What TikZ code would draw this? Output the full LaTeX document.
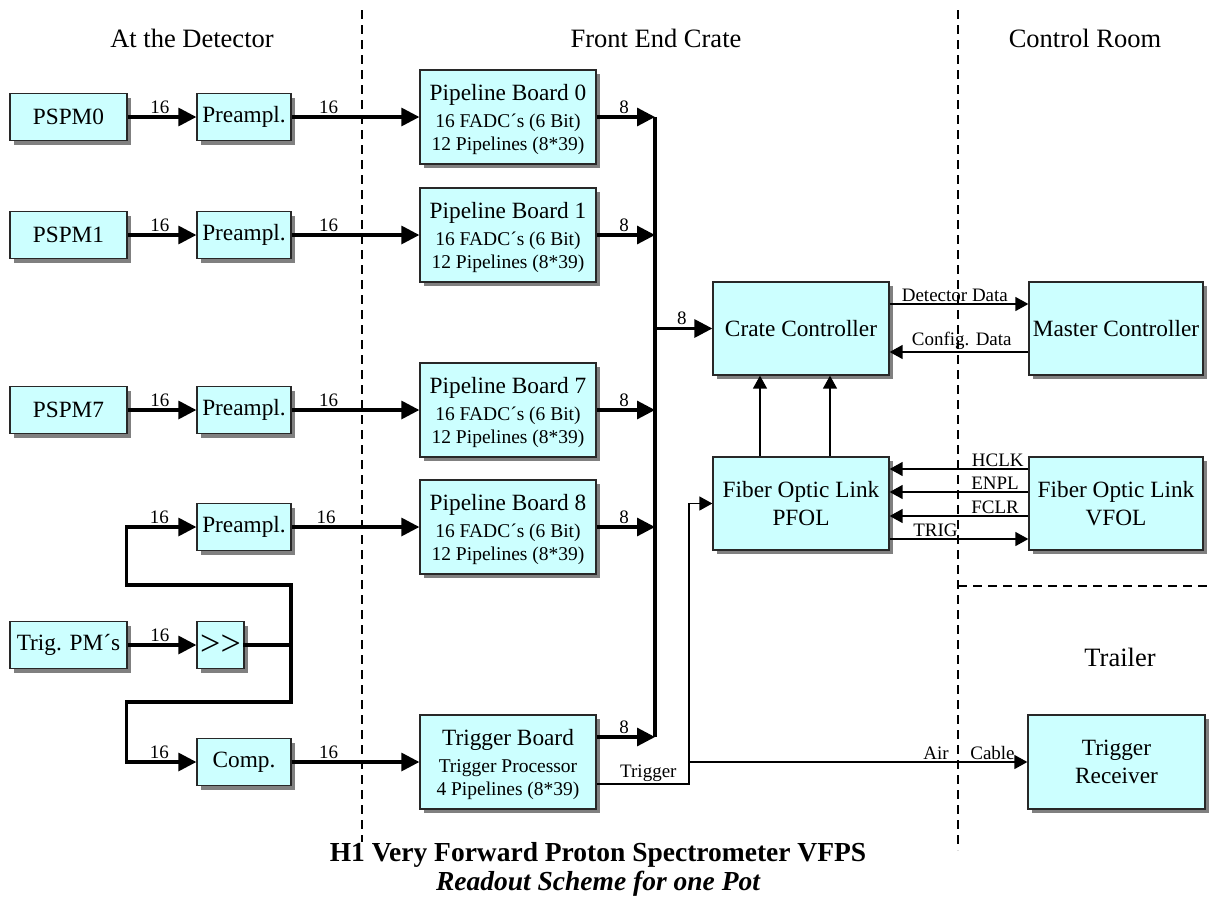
\documentclass[tikz,border=0pt]{standalone}
\usepackage{fontspec}
\setmainfont{Liberation Serif}
\usetikzlibrary{arrows.meta,shadows}
\definecolor{boxfill}{RGB}{204,255,255}
\definecolor{boxline}{RGB}{40,40,40}
\definecolor{shadowgray}{RGB}{128,128,128}
\newcommand{\bigf}{\fontsize{23.3}{27.5}\selectfont}
\newcommand{\smallf}{\fontsize{19.5}{23}\selectfont}
\newcommand{\lblf}{\fontsize{19}{21}\selectfont}
\newcommand{\topstrut}{\rule{0pt}{21pt}}
\begin{document}
\begin{tikzpicture}[x=1pt,y=-1pt,
  box/.style={draw=boxline, line width=1.3pt, fill=boxfill, inner sep=0pt, align=center, font=\bigf,
    drop shadow={shadow xshift=4pt, shadow yshift=-4pt, fill=shadowgray, opacity=1}},
  smallbox/.style={box, minimum width=94pt, minimum height=47pt},
  srcbox/.style={box, minimum width=117pt, minimum height=47pt},
  bigbox/.style={box, minimum width=176pt, minimum height=94pt},
  sig/.style={line width=3.2pt},
  sigline/.style={sig, line cap=rect},
  sigarrow/.style={sig, -{Triangle[length=18pt,width=18pt]}},
  bus/.style={line width=4.5pt},
  thinline/.style={line width=1.4pt},
  thinarrow/.style={thinline, -{Triangle[length=13pt,width=14pt]}},
  lbl/.style={font=\lblf, inner sep=1pt, above, yshift=1pt},
  divider/.style={line width=1.8pt, dash pattern=on 9pt off 6pt},
  region/.style={font=\fontsize{26.5}{30}\selectfont},
  title/.style={font=\fontsize{27.5}{30}\selectfont\bfseries}
]
\useasboundingbox (0,0) rectangle (1213,905);

% dividers
\draw[divider] (362,10) -- (362,842);
\draw[divider] (958,10) -- (958,850);
\draw[divider] (958,586) -- (1213,586);

% region titles
\node[region] (tdet) at (192,38) {At the Detector};
\node[region] (tfec) at (656,38) {Front End Crate};
\node[region] (tcr) at (1085,38) {Control Room};
\node[region] (ttr) at (1120,657) {Trailer};

% boxes
\node[srcbox] (pspm0) at (68.5,117) {PSPM0};
\node[smallbox] (pre0) at (244,117) {Preampl.};
\node[bigbox] (pb0) at (508,117) {\topstrut Pipeline Board 0\\{\smallf 16 FADC´s (6 Bit)}\\[-5pt]{\smallf 12 Pipelines (8*39)}};

\node[srcbox] (pspm1) at (68.5,235) {PSPM1};
\node[smallbox] (pre1) at (244,235) {Preampl.};
\node[bigbox] (pb1) at (508,235) {\topstrut Pipeline Board 1\\{\smallf 16 FADC´s (6 Bit)}\\[-5pt]{\smallf 12 Pipelines (8*39)}};

\node[srcbox] (pspm7) at (68.5,410) {PSPM7};
\node[smallbox] (pre7) at (244,410) {Preampl.};
\node[bigbox] (pb7) at (508,410) {\topstrut Pipeline Board 7\\{\smallf 16 FADC´s (6 Bit)}\\[-5pt]{\smallf 12 Pipelines (8*39)}};

\node[smallbox] (pre8) at (244,527) {Preampl.};
\node[bigbox] (pb8) at (508,527) {\topstrut Pipeline Board 8\\{\smallf 16 FADC´s (6 Bit)}\\[-5pt]{\smallf 12 Pipelines (8*39)}};

\node[srcbox] (trig) at (68.5,645) {Trig. PM´s};
\node[box, minimum width=47pt, minimum height=47pt, font=\fontsize{36}{36}\selectfont] (sh) at (220.5,645) {>\kern0pt>};

\node[smallbox] (comp) at (244,762) {Comp.};
\node[bigbox] (tb) at (508,762) {\topstrut Trigger Board\\{\smallf Trigger Processor}\\[-5pt]{\smallf 4 Pipelines (8*39)}};

\node[bigbox, minimum height=93pt] (cc) at (801,328.5) {Crate Controller};
\node[bigbox, minimum width=174pt, minimum height=93pt] (mc) at (1116,328.5) {Master Controller};
\node[bigbox, minimum height=93pt] (pfol) at (801,503.5) {Fiber Optic Link\\PFOL};
\node[bigbox, minimum width=174pt, minimum height=93pt] (vfol) at (1116,503.5) {Fiber Optic Link\\VFOL};
\node[bigbox, minimum width=177pt] (tr) at (1116.5,762) {Trigger\\Receiver};

% coordinates
\coordinate (b0) at (655,117);
\coordinate (b1) at (655,235);
\coordinate (b7) at (655,410);
\coordinate (b8) at (655,527);
\coordinate (b9) at (655,737);
\coordinate (bc) at (655,328.5);
\coordinate (w1) at (291,585);
\coordinate (w2) at (291,702);
\coordinate (wc) at (291,645);
\coordinate (tj) at (689,762);

% detector side
\draw[sigarrow] (pspm0) -- node[lbl,pos=0.47]{16} (pre0);
\draw[sigarrow] (pre0) -- node[lbl,pos=0.29]{16} (pb0);
\draw[sigarrow] (pspm1) -- node[lbl,pos=0.47]{16} (pre1);
\draw[sigarrow] (pre1) -- node[lbl,pos=0.29]{16} (pb1);
\draw[sigarrow] (pspm7) -- node[lbl,pos=0.47]{16} (pre7);
\draw[sigarrow] (pre7) -- node[lbl,pos=0.29]{16} (pb7);
\draw[sigarrow] (pre8) -- node[lbl,pos=0.27]{16} (pb8);
\draw[sigarrow] (trig) -- node[lbl,pos=0.47]{16} (sh);
\draw[sigarrow] (comp) -- node[lbl,pos=0.29]{16} (tb);
\draw[sigline] (sh) -- (wc);
\draw[sigline] (w1) -- (w2);
\draw[sigarrow] (w1) -| ([xshift=-70pt]pre8.west) -- node[lbl,pos=0.47]{16} (pre8.west);
\draw[sigarrow] (w2) -| ([xshift=-70pt]comp.west) -- node[lbl,pos=0.47]{16} (comp.west);

% bus
\draw[bus] (b0) -- (b9);
\draw[sigarrow] (pb0) -- node[lbl,pos=0.47]{8} (b0);
\draw[sigarrow] (pb1) -- node[lbl,pos=0.47]{8} (b1);
\draw[sigarrow] (pb7) -- node[lbl,pos=0.47]{8} (b7);
\draw[sigarrow] (pb8) -- node[lbl,pos=0.47]{8} (b8);
\draw[sigarrow] ([yshift=25pt]tb.east) -- node[lbl,pos=0.47]{8} (b9);
\draw[sigarrow] (bc) -- node[lbl,pos=0.47]{8} (cc);

% controllers
\draw[thinarrow] ([yshift=24.5pt]cc.east) -- node[lbl,pos=0.47]{Detector Data} ([yshift=24.5pt]mc.west);
\draw[thinarrow] ([yshift=-23.5pt]mc.west) -- node[lbl,pos=0.48]{Config. Data} ([yshift=-23.5pt]cc.east);
\draw[thinarrow] ([xshift=-41pt]pfol.north) -- ([xshift=-41pt]cc.south);
\draw[thinarrow] ([xshift=29pt]pfol.north) -- ([xshift=29pt]cc.south);

% fiber links
\draw[thinarrow] ([yshift=34.5pt]vfol.west) -- node[lbl,pos=0.22]{HCLK} ([yshift=34.5pt]pfol.east);
\draw[thinarrow] ([yshift=11.5pt]vfol.west) -- node[lbl,pos=0.24]{ENPL} ([yshift=11.5pt]pfol.east);
\draw[thinarrow] ([yshift=-12.5pt]vfol.west) -- node[lbl,pos=0.24]{FCLR} ([yshift=-12.5pt]pfol.east);
\draw[thinarrow] ([yshift=-35.5pt]pfol.east) -- node[lbl,pos=0.33]{TRIG} ([yshift=-35.5pt]vfol.west);

% trigger
\draw[thinarrow] ([yshift=-22pt]tb.east) -| node[lbl,pos=0.28]{Trigger} (tj) |- (pfol.west);
\draw[thinarrow] (tj) -- node[lbl,pos=0.73]{Air} node[lbl,pos=0.897]{Cable} (tr);

% bottom title
\node[title] (t1) at (598,855) {H1 Very Forward Proton Spectrometer VFPS};
\node[title] (t2) at (598,884) {\itshape Readout Scheme for one Pot};
\end{tikzpicture}
\end{document}
